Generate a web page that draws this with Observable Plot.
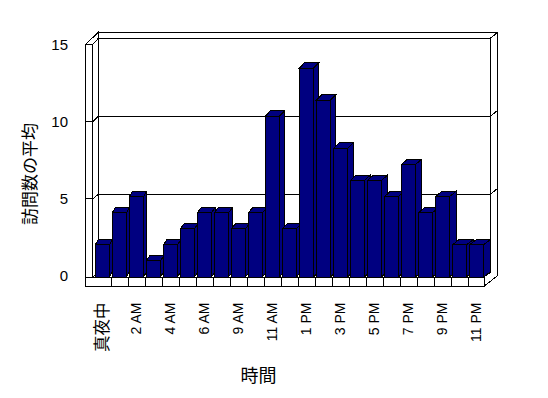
<!DOCTYPE html>
<html><head><meta charset="utf-8">
<script src="https://cdn.jsdelivr.net/npm/d3@7"></script>
<script src="https://cdn.jsdelivr.net/npm/@observablehq/plot@0.6"></script>
<style>
body{margin:0;background:#fff}
svg text{font-family:"Liberation Sans","Noto Sans CJK JP",sans-serif}
</style>
</head><body><div id="chart"></div>
<script>
const hours = ["真夜中","1 AM","2 AM","3 AM","4 AM","5 AM","6 AM","7 AM","9 AM","10 AM","11 AM","12 PM","1 PM","2 PM","3 PM","4 PM","5 PM","6 PM","7 PM","8 PM","9 PM","10 PM","11 PM"];
const visits = [2,4,5,1,2,3,4,4,3,4,10,3,13,11,8,6,6,5,7,4,5,2,2];
const tickLabels = ["真夜中","2 AM","4 AM","6 AM","9 AM","11 AM","1 PM","3 PM","5 PM","7 PM","9 PM","11 PM"];
const yTicks = [0,5,10,15];
const gridValues = [5,10,15];
const yTitle = "訪問数の平均";
const xTitle = "時間";

const BAR = "#000080";
const table = hours.map((h, i) => ({hour: h, visits: visits[i]}));

// 3D style constants (pixels)
const INSET_L = 1.3, INSET_R = 1.6, DEPTH_Y = -5.5;
const depthX = px => 1.8 + 0.01135 * px;

function geom(scales) {
  const bw = scales.x.bandwidth();
  const X0 = scales.x(hours[0]);
  const X1 = scales.x(hours[hours.length - 1]) + bw;
  const Y0 = scales.y(0);
  const fw = v => Y0 - 1 - 0.96 * (Y0 - scales.y(v));      // left wall front edge
  const bk = v => Y0 - 4.7 - 0.971 * (Y0 - scales.y(v));   // back wall
  return {bw, X0, X1, Y0, fw, bk};
}

const poly = pts => "M" + pts.map(p => p.join(",")).join("L") + "Z";

function frameRender(index, scales, values, dimensions) {
  const {bw, X0, X1, Y0, fw, bk} = geom(scales);
  const top = Math.max(...yTicks);
  const LW0 = X0 - 8.7, LW1 = X0 - 1.3;
  const BW0 = X0 + 4.3, BW1 = X1 + 5.3, BW2 = X1 + 12.7;
  const TOP = bk(top) - 6;
  const FB = Y0 + 9.3, FR = X1 - 1;
  const g = d3.create("svg:g").attr("fill", "white").attr("stroke", "black").attr("stroke-width", 1).attr("shape-rendering", "crispEdges");
  const shapes = [
    [[BW0, bk(top)], [BW1, bk(top)], [BW1, bk(0)], [BW0, bk(0)]],
    [[BW0, bk(top)], [BW1, bk(top)], [BW2, TOP], [BW0, TOP]],
    [[BW1, bk(top)], [BW2, TOP], [BW2, FB - 10.8], [FR, FB], [FR, Y0], [BW1, bk(0)]],
    [[LW1, fw(top)], [BW0, bk(top)], [BW0, bk(0)], [LW1, Y0]],
    [[LW0, fw(top)], [LW1, fw(top)], [BW0, bk(top)], [BW0, TOP]],
    [[LW0, fw(top)], [LW1, fw(top)], [LW1, FB], [LW0, FB]],
    [[LW1, Y0], [FR, Y0], [BW1, bk(0)], [BW0, bk(0)]],
    [[LW0, Y0], [FR, Y0], [FR, FB], [LW0, FB]]
  ];
  for (const s of shapes) g.append("path").attr("d", poly(s));
  for (let i = 1; i < hours.length; i++) {
    const x = X0 + i * bw;
    g.append("line").attr("x1", x).attr("x2", x).attr("y1", Y0).attr("y2", FB);
  }
  for (const i of index) {
    const v = gridValues[i];
    g.append("path").attr("fill", "none")
      .attr("d", `M${LW0},${fw(v)}L${LW1},${fw(v)}L${BW0},${bk(v)}L${BW1},${bk(v)}L${BW2},${bk(v) - 6}`);
  }
  const t = d3.create("svg:g").attr("font-size", 15).attr("text-anchor", "end").attr("fill", "black");
  for (const v of yTicks) {
    t.append("text").attr("x", 68).attr("y", fw(v)).attr("dy", "0.36em").text(v);
  }
  const outer = d3.create("svg:g");
  outer.append(() => g.node());
  outer.append(() => t.node());
  return outer.node();
}

function barsRender(index, scales) {
  const {bw, Y0} = geom(scales);
  const g = d3.create("svg:g").attr("fill", BAR).attr("stroke", "black").attr("stroke-width", 1).attr("shape-rendering", "crispEdges");
  for (const i of index) {
    const d = table[i];
    const xl = scales.x(d.hour) + INSET_L, xr = scales.x(d.hour) + bw - INSET_R;
    const yt = scales.y(d.visits);
    const dx = depthX(xr), dy = DEPTH_Y;
    g.append("path").attr("d", poly([[xr, yt], [xr + dx, yt + dy], [xr + dx, Y0 + dy], [xr, Y0]]));
    g.append("path").attr("d", poly([[xl, yt], [xl + dx, yt + dy], [xr + dx, yt + dy], [xr, yt]]));
    g.append("path").attr("d", poly([[xl, yt], [xr, yt], [xr, Y0], [xl, Y0]]));
  }
  return g.node();
}

const chart = Plot.plot({
  width: 548,
  height: 398,
  marginLeft: 90,
  marginRight: 60,
  marginTop: 36,
  marginBottom: 121,
  x: {type: "band", domain: hours, padding: 0, axis: null},
  y: {domain: [0, 15], axis: null},
  style: {background: "white", overflow: "visible"},
  marks: [
    Plot.ruleY(gridValues, {y: d => d, render: frameRender}),
    Plot.barY(table, {x: "hour", y: "visits", render: barsRender}),
    Plot.text(tickLabels, {
      x: d => d, frameAnchor: "bottom", dy: 25, rotate: -90,
      textAnchor: "end", lineAnchor: "middle",
      fontSize: d => /[^\x00-\x7F]/.test(d) ? 16.5 : 14,
      fill: "black"
    }),
    Plot.text([yTitle], {frameAnchor: "left", dx: -60, dy: 17, rotate: -90, textAnchor: "middle", lineAnchor: "middle", fontSize: 17, fill: "black"}),
    Plot.text([xTitle], {frameAnchor: "bottom", dx: -31, dy: 104, textAnchor: "middle", fontSize: 18, fill: "black"})
  ]
});
document.getElementById("chart").appendChild(chart);
</script>
</body></html>
